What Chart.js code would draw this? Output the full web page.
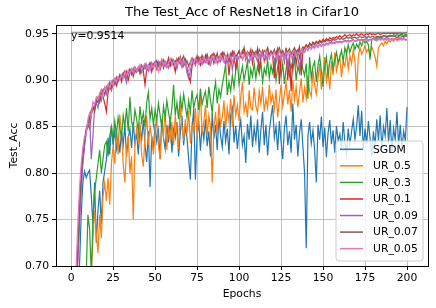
<!DOCTYPE html>
<html>
<head>
<meta charset="utf-8">
<script src="https://cdn.jsdelivr.net/npm/chart.js@4.4.1/dist/chart.umd.min.js"></script>
<style>
html,body{margin:0;padding:0;background:#fff;}
#wrap{width:436px;height:308px;position:relative;}
</style>
</head>
<body>
<div id="wrap"><canvas id="c" width="436" height="308"></canvas></div>
<script>
const chartTitle = 'The Test_Acc of ResNet18 in Cifar10';
const seriesNames = ['SGDM','UR_0.5','UR_0.3','UR_0.1','UR_0.09','UR_0.07','UR_0.05'];
const seriesColors = ['#1f77b4','#ff7f0e','#2ca02c','#d62728','#9467bd','#8c564b','#e377c2'];
const xTickValues = [0,25,50,75,100,125,150,175,200];
const yTickValues = [0.70,0.75,0.80,0.85,0.90,0.95];
const yTickLabels = ['0.70','0.75','0.80','0.85','0.90','0.95'];
const refValue = 0.9514;
const refLabel = 'y=0.9514';

const sgdm = [
0.30,0.45,0.55,0.62,0.665,0.70,0.755,0.79,0.802,0.795,
0.80,0.803,0.776,0.745,0.79,0.725,0.76,0.781,0.745,0.79,
0.802,0.815,0.838,0.82,0.851,0.83,0.846,0.826,0.84,0.822,
0.845,0.83,0.852,0.818,0.838,0.848,0.827,0.855,0.832,0.843,
0.82,0.85,0.836,0.857,0.83,0.812,0.845,0.785,0.84,0.826,
0.853,0.834,0.846,0.815,0.858,0.838,0.826,0.852,0.833,0.86,
0.822,0.847,0.838,0.855,0.818,0.843,0.862,0.83,0.85,0.838,
0.815,0.793,0.848,0.869,0.793,0.84,0.856,0.824,0.851,0.836,
0.858,0.829,0.845,0.818,0.865,0.837,0.852,0.825,0.86,0.84,
0.828,0.856,0.834,0.848,0.82,0.862,0.87,0.833,0.851,0.826,
0.845,0.857,0.83,0.84,0.811,0.853,0.836,0.862,0.828,0.849,
0.835,0.858,0.822,0.847,0.866,0.83,0.852,0.819,0.845,0.86,
0.873,0.838,0.85,0.825,0.856,0.834,0.815,0.848,0.862,0.83,
0.845,0.822,0.875,0.836,0.852,0.818,0.843,0.858,0.829,0.80,
0.719,0.84,0.855,0.832,0.846,0.825,0.79,0.852,0.836,0.861,
0.828,0.849,0.817,0.843,0.857,0.831,0.846,0.822,0.851,0.835,
0.842,0.826,0.855,0.833,0.82,0.848,0.83,0.845,0.858,0.836,
0.85,0.873,0.84,0.867,0.825,0.848,0.832,0.856,0.838,0.818,
0.845,0.83,0.858,0.835,0.862,0.826,0.85,0.84,0.87,0.832,
0.857,0.823,0.848,0.836,0.866,0.83,0.852,0.825,0.845,0.835,
0.871];
const ur05 = [
0.20,0.30,0.40,0.45,0.50,0.55,0.58,0.60,0.62,0.64,
0.66,0.68,0.69,0.73,0.76,0.735,0.714,0.755,0.73,0.775,
0.79,0.77,0.795,0.766,0.81,0.83,0.81,0.845,0.82,0.863,
0.842,0.81,0.79,0.825,0.84,0.80,0.818,0.75,0.83,0.848,
0.835,0.855,0.82,0.807,0.84,0.862,0.83,0.85,0.838,0.82,
0.845,0.857,0.83,0.815,0.852,0.84,0.868,0.825,0.848,0.836,
0.855,0.83,0.862,0.843,0.826,0.873,0.85,0.835,0.858,0.842,
0.867,0.832,0.852,0.845,0.87,0.838,0.86,0.886,0.843,0.855,
0.873,0.84,0.862,0.85,0.79,0.848,0.866,0.84,0.875,0.852,
0.86,0.878,0.848,0.87,0.856,0.88,0.85,0.884,0.862,0.873,
0.856,0.882,0.898,0.866,0.875,0.86,0.889,0.87,0.868,0.892,
0.872,0.865,0.888,0.875,0.893,0.866,0.88,0.87,0.895,0.876,
0.884,0.869,0.89,0.86,0.878,0.895,0.872,0.885,0.898,0.874,
0.889,0.866,0.90,0.879,0.893,0.871,0.887,0.902,0.876,0.892,
0.88,0.905,0.888,0.882,0.91,0.895,0.885,0.902,0.918,0.89,
0.907,0.925,0.899,0.912,0.89,0.92,0.905,0.93,0.91,0.918,
0.925,0.903,0.92,0.915,0.93,0.912,0.926,0.918,0.933,0.92,
0.888,0.925,0.935,0.928,0.932,0.937,0.93,0.934,0.928,0.936,
0.931,0.925,0.915,0.935,0.938,0.94,0.937,0.942,0.939,0.943,
0.941,0.944,0.942,0.945,0.943,0.946,0.945,0.947,0.946,0.947,
0.948];
const ur03 = [
0.20,0.30,0.40,0.48,0.55,0.60,0.63,0.66,0.68,0.69,
0.755,0.74,0.69,0.75,0.78,0.795,0.81,0.825,0.80,0.815,
0.83,0.834,0.818,0.84,0.85,0.835,0.856,0.842,0.86,0.848,
0.838,0.862,0.85,0.87,0.845,0.882,0.855,0.848,0.868,0.858,
0.845,0.872,0.855,0.865,0.85,0.876,0.887,0.858,0.87,0.852,
0.868,0.857,0.875,0.862,0.848,0.872,0.86,0.878,0.865,0.855,
0.87,0.895,0.862,0.876,0.858,0.882,0.868,0.885,0.872,0.86,
0.878,0.865,0.889,0.87,0.879,0.884,0.868,0.891,0.874,0.882,
0.888,0.87,0.893,0.878,0.865,0.886,0.898,0.875,0.89,0.882,
0.895,0.905,0.917,0.884,0.898,0.888,0.905,0.892,0.91,0.92,
0.896,0.905,0.915,0.90,0.91,0.92,0.895,0.912,0.904,0.918,
0.902,0.915,0.907,0.92,0.898,0.913,0.906,0.922,0.902,0.916,
0.908,0.92,0.90,0.914,0.922,0.905,0.918,0.896,0.912,0.92,
0.905,0.917,0.91,0.924,0.90,0.915,0.908,0.922,0.912,0.905,
0.918,0.88,0.925,0.902,0.915,0.92,0.898,0.916,0.926,0.91,
0.893,0.915,0.925,0.905,0.92,0.928,0.912,0.922,0.93,0.918,
0.925,0.932,0.92,0.935,0.928,0.938,0.93,0.936,0.94,0.933,
0.939,0.935,0.941,0.937,0.943,0.94,0.942,0.938,0.922,0.944,
0.945,0.943,0.946,0.945,0.947,0.946,0.947,0.948,0.947,0.948,
0.948,0.947,0.949,0.948,0.949,0.948,0.949,0.949,0.948,0.949,
0.949];
const ur01 = [
0.42,0.56,0.63,0.67,0.71,0.755,0.79,0.815,0.83,0.845,
0.852,0.848,0.862,0.87,0.868,0.879,0.876,0.884,0.889,0.882,
0.875,0.866,0.887,0.893,0.889,0.897,0.901,0.894,0.90,0.905,
0.898,0.906,0.903,0.909,0.90,0.908,0.912,0.904,0.911,0.909,
0.914,0.907,0.915,0.91,0.895,0.912,0.916,0.918,0.909,0.917,
0.92,0.912,0.919,0.916,0.922,0.913,0.92,0.917,0.924,0.915,
0.921,0.918,0.909,0.923,0.919,0.925,0.914,0.92,0.923,0.912,
0.904,0.898,0.915,0.922,0.918,0.926,0.92,0.916,0.924,0.919,
0.927,0.921,0.917,0.925,0.928,0.918,0.923,0.929,0.92,0.926,
0.93,0.922,0.918,0.927,0.905,0.924,0.931,0.926,0.912,0.928,
0.932,0.925,0.929,0.935,0.922,0.93,0.927,0.933,0.918,0.929,
0.926,0.934,0.909,0.928,0.932,0.921,0.93,0.935,0.924,0.931,
0.927,0.902,0.929,0.934,0.896,0.926,0.931,0.92,0.935,0.90,
0.928,0.888,0.924,0.933,0.917,0.93,0.936,0.905,0.932,0.935,
0.938,0.935,0.94,0.937,0.941,0.939,0.942,0.94,0.943,0.941,
0.944,0.942,0.945,0.943,0.946,0.944,0.946,0.945,0.947,0.946,
0.948,0.946,0.947,0.949,0.947,0.948,0.949,0.947,0.949,0.948,
0.95,0.948,0.949,0.95,0.948,0.949,0.95,0.949,0.951,0.949,
0.95,0.949,0.95,0.951,0.949,0.95,0.951,0.95,0.95,0.951,
0.95,0.951,0.95,0.951,0.95,0.951,0.951,0.95,0.951,0.951,
0.9514];
const ur009 = [
0.40,0.54,0.62,0.665,0.705,0.745,0.78,0.81,0.83,0.845,
0.85,0.862,0.815,0.84,0.872,0.876,0.87,0.883,0.878,0.888,
0.892,0.885,0.894,0.898,0.89,0.899,0.895,0.903,0.90,0.906,
0.902,0.908,0.904,0.897,0.909,0.911,0.906,0.913,0.908,0.912,
0.91,0.915,0.908,0.914,0.912,0.917,0.91,0.915,0.919,0.913,
0.918,0.914,0.92,0.911,0.917,0.921,0.915,0.919,0.913,0.92,
0.916,0.922,0.918,0.912,0.921,0.917,0.923,0.915,0.919,0.908,
0.902,0.91,0.918,0.921,0.916,0.922,0.918,0.924,0.917,0.921,
0.919,0.925,0.92,0.916,0.923,0.921,0.926,0.918,0.924,0.92,
0.926,0.921,0.917,0.924,0.92,0.927,0.911,0.923,0.926,0.921,
0.925,0.928,0.922,0.926,0.93,0.924,0.919,0.927,0.923,0.929,
0.925,0.92,0.928,0.924,0.93,0.926,0.922,0.929,0.925,0.931,
0.927,0.923,0.918,0.928,0.924,0.93,0.926,0.921,0.929,0.912,
0.925,0.929,0.92,0.927,0.931,0.924,0.913,0.928,0.932,0.93,
0.934,0.932,0.936,0.934,0.937,0.935,0.938,0.936,0.939,0.937,
0.939,0.938,0.94,0.939,0.941,0.94,0.941,0.94,0.942,0.941,
0.942,0.941,0.942,0.943,0.942,0.943,0.942,0.943,0.944,0.942,
0.943,0.944,0.943,0.944,0.943,0.944,0.945,0.943,0.944,0.944,
0.945,0.944,0.943,0.945,0.944,0.945,0.944,0.945,0.944,0.945,
0.944,0.945,0.944,0.945,0.944,0.944,0.945,0.944,0.945,0.944,
0.944];
const ur007 = [
0.43,0.57,0.64,0.68,0.72,0.765,0.80,0.82,0.835,0.848,
0.855,0.86,0.868,0.872,0.866,0.878,0.882,0.876,0.886,0.89,
0.884,0.893,0.889,0.897,0.893,0.90,0.896,0.903,0.899,0.905,
0.901,0.907,0.91,0.903,0.908,0.912,0.907,0.91,0.914,0.909,
0.913,0.91,0.916,0.912,0.917,0.911,0.915,0.919,0.914,0.918,
0.916,0.921,0.915,0.92,0.917,0.922,0.918,0.914,0.921,0.918,
0.923,0.917,0.921,0.919,0.924,0.918,0.922,0.926,0.917,0.921,
0.915,0.92,0.924,0.919,0.923,0.92,0.925,0.921,0.927,0.922,
0.924,0.928,0.921,0.926,0.923,0.929,0.924,0.927,0.922,0.928,
0.925,0.93,0.924,0.927,0.921,0.929,0.926,0.931,0.925,0.928,
0.93,0.926,0.932,0.928,0.925,0.931,0.929,0.926,0.932,0.928,
0.931,0.927,0.933,0.929,0.926,0.932,0.93,0.934,0.928,0.931,
0.929,0.933,0.927,0.931,0.935,0.929,0.932,0.926,0.933,0.93,
0.934,0.928,0.932,0.935,0.93,0.933,0.924,0.932,0.936,0.934,
0.938,0.936,0.939,0.937,0.94,0.938,0.941,0.939,0.942,0.94,
0.942,0.941,0.943,0.942,0.943,0.942,0.944,0.943,0.944,0.945,
0.944,0.945,0.944,0.945,0.946,0.945,0.946,0.945,0.946,0.946,
0.945,0.946,0.947,0.946,0.946,0.947,0.946,0.947,0.946,0.947,
0.947,0.946,0.947,0.947,0.946,0.947,0.948,0.947,0.946,0.947,
0.947,0.948,0.947,0.947,0.946,0.947,0.948,0.947,0.947,0.948,
0.947];
const ur005 = [
0.46,0.60,0.66,0.70,0.745,0.785,0.81,0.828,0.84,0.842,
0.858,0.865,0.862,0.877,0.874,0.882,0.879,0.886,0.89,0.884,
0.893,0.889,0.896,0.892,0.899,0.895,0.902,0.898,0.904,0.90,
0.906,0.902,0.909,0.905,0.911,0.907,0.912,0.908,0.914,0.91,
0.913,0.917,0.911,0.915,0.918,0.912,0.916,0.91,0.917,0.913,
0.919,0.915,0.909,0.918,0.922,0.916,0.92,0.914,0.919,0.923,
0.917,0.921,0.915,0.92,0.918,0.923,0.916,0.921,0.919,0.914,
0.91,0.917,0.922,0.918,0.924,0.92,0.917,0.923,0.919,0.925,
0.921,0.918,0.924,0.92,0.926,0.922,0.919,0.925,0.921,0.927,
0.923,0.919,0.926,0.922,0.928,0.924,0.92,0.927,0.923,0.926,
0.925,0.929,0.923,0.927,0.924,0.93,0.926,0.922,0.928,0.925,
0.929,0.926,0.923,0.93,0.927,0.924,0.931,0.927,0.925,0.929,
0.926,0.93,0.924,0.928,0.931,0.926,0.929,0.923,0.93,0.927,
0.931,0.925,0.929,0.932,0.927,0.93,0.928,0.933,0.929,0.931,
0.934,0.932,0.935,0.933,0.936,0.934,0.937,0.935,0.938,0.936,
0.938,0.937,0.939,0.938,0.94,0.939,0.94,0.939,0.941,0.94,
0.941,0.94,0.941,0.942,0.941,0.942,0.941,0.942,0.943,0.942,
0.942,0.943,0.942,0.943,0.942,0.943,0.944,0.942,0.943,0.943,
0.944,0.943,0.942,0.944,0.943,0.944,0.943,0.944,0.943,0.944,
0.943,0.944,0.943,0.944,0.943,0.943,0.944,0.943,0.944,0.943,
0.9435];

const seriesValues = [sgdm, ur05, ur03, ur01, ur009, ur007, ur005];
const epochs = sgdm.map((_, i) => i);

const FONT = '"DejaVu Sans", sans-serif';

const datasets = seriesNames.map((name, i) => ({
  label: name,
  data: seriesValues[i],
  borderColor: seriesColors[i],
  backgroundColor: seriesColors[i],
  borderWidth: 1.2,
  pointRadius: 0,
  tension: 0,
  fill: false,
  clip: 0,
  order: seriesNames.length - i
}));
datasets.push({
  label: '__ref',
  data: epochs.map(() => refValue),
  borderColor: 'rgba(140,140,140,0.85)',
  borderWidth: 1.3,
  pointRadius: 0,
  fill: false,
  clip: 0,
  order: -1
});

const overlay = {
  id: 'overlay',
  afterDatasetsDraw(chart) {
    const ctx = chart.ctx;
    const a = chart.chartArea;
    const xs = chart.scales.x, ys = chart.scales.y;
    ctx.save();
    // frame
    ctx.strokeStyle = '#000';
    ctx.lineWidth = 1;
    ctx.strokeRect(Math.round(a.left) + 0.5, Math.round(a.top) + 0.5, Math.round(a.right - a.left), Math.round(a.bottom - a.top));
    // title centred over the plot area
    ctx.fillStyle = '#000';
    ctx.font = '13px ' + FONT;
    ctx.textAlign = 'center';
    ctx.textBaseline = 'middle';
    ctx.fillText(chartTitle, (a.left + a.right) / 2, 13);
    // reference text
    ctx.font = '10.8px ' + FONT;
    ctx.textAlign = 'left';
    ctx.fillText(refLabel, xs.getPixelForValue(0), ys.getPixelForValue(refValue) + 4);
    // legend
    const lx = 336, ly = 141, lw = 87, lh = 120, r = 3;
    ctx.beginPath();
    ctx.moveTo(lx + r, ly);
    ctx.lineTo(lx + lw - r, ly); ctx.quadraticCurveTo(lx + lw, ly, lx + lw, ly + r);
    ctx.lineTo(lx + lw, ly + lh - r); ctx.quadraticCurveTo(lx + lw, ly + lh, lx + lw - r, ly + lh);
    ctx.lineTo(lx + r, ly + lh); ctx.quadraticCurveTo(lx, ly + lh, lx, ly + lh - r);
    ctx.lineTo(lx, ly + r); ctx.quadraticCurveTo(lx, ly, lx + r, ly);
    ctx.closePath();
    ctx.fillStyle = 'rgba(255,255,255,0.8)';
    ctx.fill();
    ctx.strokeStyle = '#cccccc';
    ctx.lineWidth = 1;
    ctx.stroke();
    seriesNames.forEach((name, i) => {
      const y = 149.3 + i * 16.56;
      ctx.strokeStyle = seriesColors[i];
      ctx.lineWidth = 1.5;
      ctx.beginPath();
      ctx.moveTo(340, y); ctx.lineTo(363, y);
      ctx.stroke();
      ctx.fillStyle = '#000';
      ctx.fillText(name, 373, y + 0.5);
    });
    ctx.restore();
  }
};

new Chart(document.getElementById('c'), {
  type: 'line',
  data: { labels: epochs, datasets },
  options: {
    responsive: false,
    animation: false,
    devicePixelRatio: 1,
    layout: { padding: { left: 0, right: 8, top: 25, bottom: 0 } },
    plugins: {
      legend: { display: false },
      tooltip: { enabled: false },
      title: { display: false }
    },
    scales: {
      x: {
        type: 'linear',
        min: -9,
        max: 212.5,
        afterBuildTicks: s => { s.ticks = xTickValues.map(v => ({ value: v })); },
        afterFit: s => { s.height = 42; },
        ticks: { color: '#000', font: { family: FONT, size: 10.8 }, padding: 2, maxRotation: 0, autoSkip: false,
          callback: v => String(v) },
        grid: { color: '#b0b0b0', lineWidth: 0.8, drawTicks: true, tickLength: 4, tickColor: '#000', tickWidth: 1 },
        border: { display: true, color: '#000', width: 1 },
        title: { display: true, text: 'Epochs', color: '#000', font: { family: FONT, size: 10.8 }, padding: { top: 0, bottom: 7 } }
      },
      y: {
        type: 'linear',
        min: 0.70,
        max: 0.9594,
        afterBuildTicks: s => { s.ticks = yTickValues.map(v => ({ value: v })); },
        afterFit: s => { s.width = 56; },
        ticks: { color: '#000', font: { family: FONT, size: 10.8 }, padding: 3, autoSkip: false,
          callback: (v) => { const k = yTickValues.findIndex(t => Math.abs(t - v) < 1e-9); return k >= 0 ? yTickLabels[k] : ''; } },
        grid: { color: '#b0b0b0', lineWidth: 0.8, drawTicks: true, tickLength: 4, tickColor: '#000', tickWidth: 1 },
        border: { display: true, color: '#000', width: 1 },
        title: { display: true, text: 'Test_Acc', color: '#000', font: { family: FONT, size: 10.8 }, padding: { top: 7.4, bottom: 0 } }
      }
    }
  },
  plugins: [overlay]
});
</script>
</body>
</html>
